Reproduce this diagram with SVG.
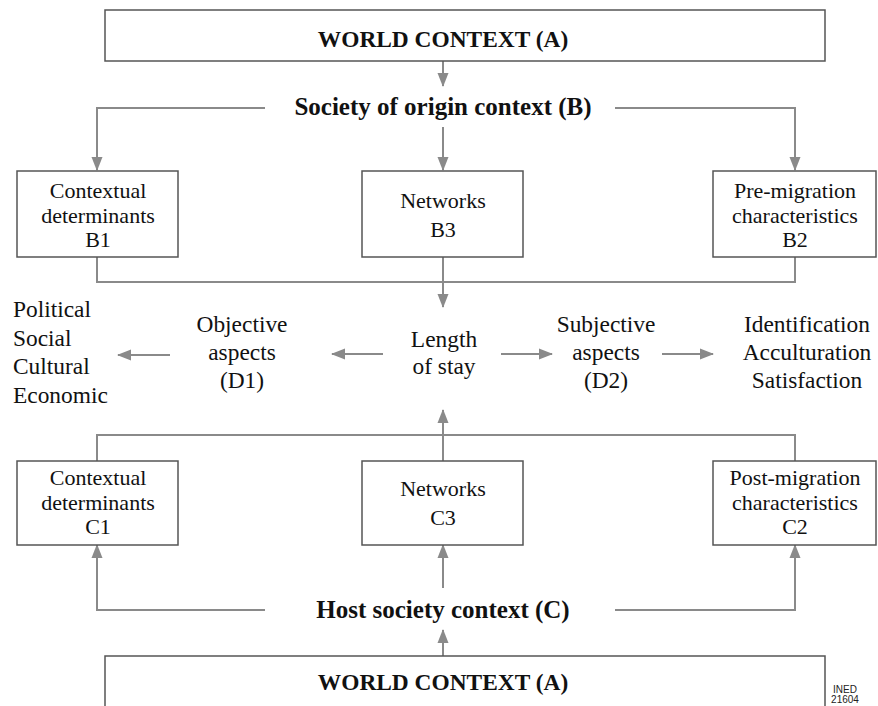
<svg xmlns="http://www.w3.org/2000/svg" width="878" height="706" viewBox="0 0 878 706">
<defs>
<style>
.box{fill:#fff;stroke:#555;stroke-width:1.5}
.t{font-family:"Liberation Serif","Times New Roman",serif;font-size:23.4px;fill:#111;text-anchor:middle}
.s{font-size:22px}
.tl{text-anchor:start}
.b{font-weight:bold}
.h{font-size:25px}
.c{fill:none;stroke:#8a8a8a;stroke-width:2}
.ined{font-family:"Liberation Sans",Arial,sans-serif;font-size:10px;fill:#222;text-anchor:middle}
</style>
<marker id="ah" markerUnits="userSpaceOnUse" markerWidth="14" markerHeight="12" viewBox="0 0 14 11" refX="13" refY="5.5" orient="auto">
<path d="M0,0 L14,5.5 L0,11 Z" fill="#8a8a8a"/>
</marker>
</defs>
<rect width="878" height="706" fill="#fff"/>
<g id="connectors">
<path class="c" d="M443,61 V86" marker-end="url(#ah)"/>
<path class="c" d="M265,108 H97 V170" marker-end="url(#ah)"/>
<path class="c" d="M615,108 H795 V170" marker-end="url(#ah)"/>
<path class="c" d="M443,127 V170" marker-end="url(#ah)"/>
<path class="c" d="M97,257 V282 H795 V257"/>
<path class="c" d="M443,257 V307" marker-end="url(#ah)"/>
<path class="c" d="M170,355 H118" marker-end="url(#ah)"/>
<path class="c" d="M383,354 H332" marker-end="url(#ah)"/>
<path class="c" d="M501,354 H552" marker-end="url(#ah)"/>
<path class="c" d="M662,354 H713" marker-end="url(#ah)"/>
<path class="c" d="M443,461 V410" marker-end="url(#ah)"/>
<path class="c" d="M97,461 V435 H795 V461"/>
<path class="c" d="M265,610 H97 V545" marker-end="url(#ah)"/>
<path class="c" d="M615,610 H795 V545" marker-end="url(#ah)"/>
<path class="c" d="M443,588 V545" marker-end="url(#ah)"/>
<path class="c" d="M443,656 V630" marker-end="url(#ah)"/>
</g>
<g id="worldA-top">
<rect class="box" x="105" y="10" width="720" height="51"/>
<text class="t b" x="443" y="47">WORLD CONTEXT (A)</text>
</g>
<g id="originB">
<text class="t b h" x="443" y="115">Society of origin context (B)</text>
</g>
<g id="B1">
<rect class="box" x="17" y="171" width="161" height="86"/>
<text class="t s" x="98" y="198">Contextual</text>
<text class="t s" x="98" y="222.5">determinants</text>
<text class="t s" x="98" y="247">B1</text>
</g>
<g id="B3">
<rect class="box" x="362" y="171" width="161" height="86"/>
<text class="t s" x="443" y="208">Networks</text>
<text class="t s" x="443" y="237">B3</text>
</g>
<g id="B2">
<rect class="box" x="713" y="171" width="163" height="86"/>
<text class="t s" x="795" y="198">Pre-migration</text>
<text class="t s" x="795" y="222.5">characteristics</text>
<text class="t s" x="795" y="247">B2</text>
</g>
<g id="domains">
<text class="t tl" x="13" y="317">Political</text>
<text class="t tl" x="13" y="346">Social</text>
<text class="t tl" x="13" y="374">Cultural</text>
<text class="t tl" x="13" y="403">Economic</text>
</g>
<g id="D1">
<text class="t" x="242" y="332">Objective</text>
<text class="t" x="242" y="360">aspects</text>
<text class="t" x="242" y="388">(D1)</text>
</g>
<g id="length">
<text class="t" x="444" y="347">Length</text>
<text class="t" x="444" y="374">of stay</text>
</g>
<g id="D2">
<text class="t" x="606" y="332">Subjective</text>
<text class="t" x="606" y="360">aspects</text>
<text class="t" x="606" y="388">(D2)</text>
</g>
<g id="outcomes">
<text class="t" x="807" y="332">Identification</text>
<text class="t" x="807" y="360">Acculturation</text>
<text class="t" x="807" y="388">Satisfaction</text>
</g>
<g id="C1">
<rect class="box" x="17" y="461" width="161" height="84"/>
<text class="t s" x="98" y="485">Contextual</text>
<text class="t s" x="98" y="509.5">determinants</text>
<text class="t s" x="98" y="534">C1</text>
</g>
<g id="C3">
<rect class="box" x="362" y="461" width="161" height="84"/>
<text class="t s" x="443" y="496">Networks</text>
<text class="t s" x="443" y="525">C3</text>
</g>
<g id="C2">
<rect class="box" x="713" y="461" width="163" height="84"/>
<text class="t s" x="795" y="485">Post-migration</text>
<text class="t s" x="795" y="509.5">characteristics</text>
<text class="t s" x="795" y="534">C2</text>
</g>
<g id="hostC">
<text class="t b h" x="443" y="618">Host society context (C)</text>
</g>
<g id="worldA-bottom">
<rect class="box" x="105" y="656" width="720" height="60"/>
<text class="t b" x="443" y="690">WORLD CONTEXT (A)</text>
</g>
<g id="ined">
<text class="ined" x="845" y="693">INED</text>
<text class="ined" x="845" y="703">21604</text>
</g>
</svg>
